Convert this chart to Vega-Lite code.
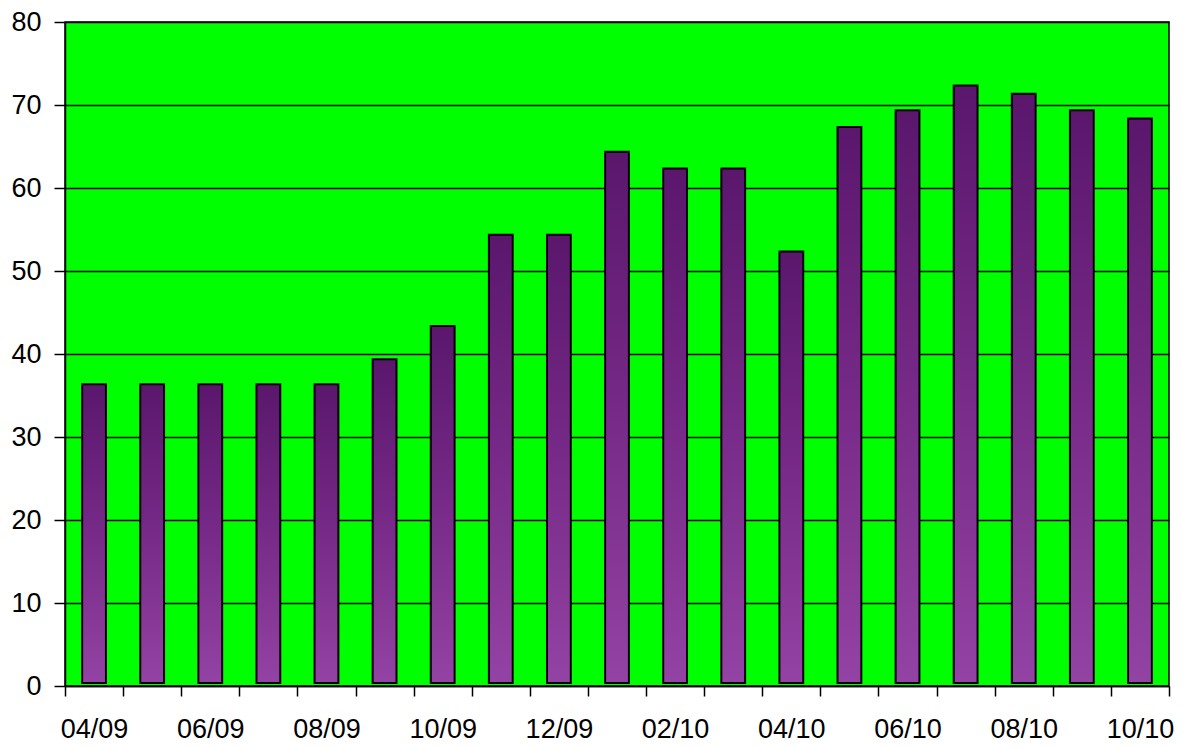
{
  "$schema": "https://vega.github.io/schema/vega-lite/v6.json",
  "autosize": {"type": "none"},
  "padding": {"left": 65, "top": 22, "right": 15, "bottom": 61},
  "width": 1104,
  "height": 664,
  "background": "#ffffff",
  "config": {
    "font": "Liberation Sans",
    "view": {"fill": "#00ff00", "stroke": "#000000", "strokeWidth": 1.5}
  },
  "data": {
    "values": [
      {"month": "04/09", "value": 36},
      {"month": "05/09", "value": 36},
      {"month": "06/09", "value": 36},
      {"month": "07/09", "value": 36},
      {"month": "08/09", "value": 36},
      {"month": "09/09", "value": 39},
      {"month": "10/09", "value": 43},
      {"month": "11/09", "value": 54},
      {"month": "12/09", "value": 54},
      {"month": "01/10", "value": 64},
      {"month": "02/10", "value": 62},
      {"month": "03/10", "value": 62},
      {"month": "04/10", "value": 52},
      {"month": "05/10", "value": 67},
      {"month": "06/10", "value": 69},
      {"month": "07/10", "value": 72},
      {"month": "08/10", "value": 71},
      {"month": "09/10", "value": 69},
      {"month": "10/10", "value": 68}
    ]
  },
  "mark": {
    "type": "bar",
    "width": {"band": 0.41},
    "yOffset": -3,
    "stroke": "#000000",
    "strokeWidth": 2,
    "color": {
      "gradient": "linear",
      "x1": 0, "y1": 0, "x2": 0, "y2": 1,
      "stops": [
        {"offset": 0, "color": "#5a176c"},
        {"offset": 0.5, "color": "#772a88"},
        {"offset": 1, "color": "#9343a3"}
      ]
    }
  },
  "encoding": {
    "x": {
      "field": "month",
      "type": "nominal",
      "sort": null,
      "scale": {"paddingInner": 0, "paddingOuter": 0},
      "axis": {
        "title": null,
        "labelAngle": 0,
        "tickBand": "extent",
        "labelExpr": "toNumber(substring(datum.value, 0, 2)) % 2 == 0 ? datum.value : ''",
        "labelFont": "Liberation Sans",
        "labelFontSize": 27,
        "labelColor": "#000000",
        "labelPadding": 20,
        "tickSize": 10,
        "tickColor": "#000000",
        "tickWidth": 1.5,
        "domainColor": "#000000",
        "domainWidth": 1.5,
        "grid": false
      }
    },
    "y": {
      "field": "value",
      "type": "quantitative",
      "scale": {"domain": [0, 80], "nice": false},
      "axis": {
        "title": null,
        "values": [0, 10, 20, 30, 40, 50, 60, 70, 80],
        "labelFont": "Liberation Sans",
        "labelFontSize": 27,
        "labelColor": "#000000",
        "labelPadding": 13,
        "tickSize": 11,
        "tickColor": "#000000",
        "tickWidth": 1.5,
        "domainColor": "#000000",
        "domainWidth": 1.5,
        "grid": true,
        "gridColor": "#000000",
        "gridWidth": 1.5,
        "gridOpacity": 1
      }
    }
  }
}
